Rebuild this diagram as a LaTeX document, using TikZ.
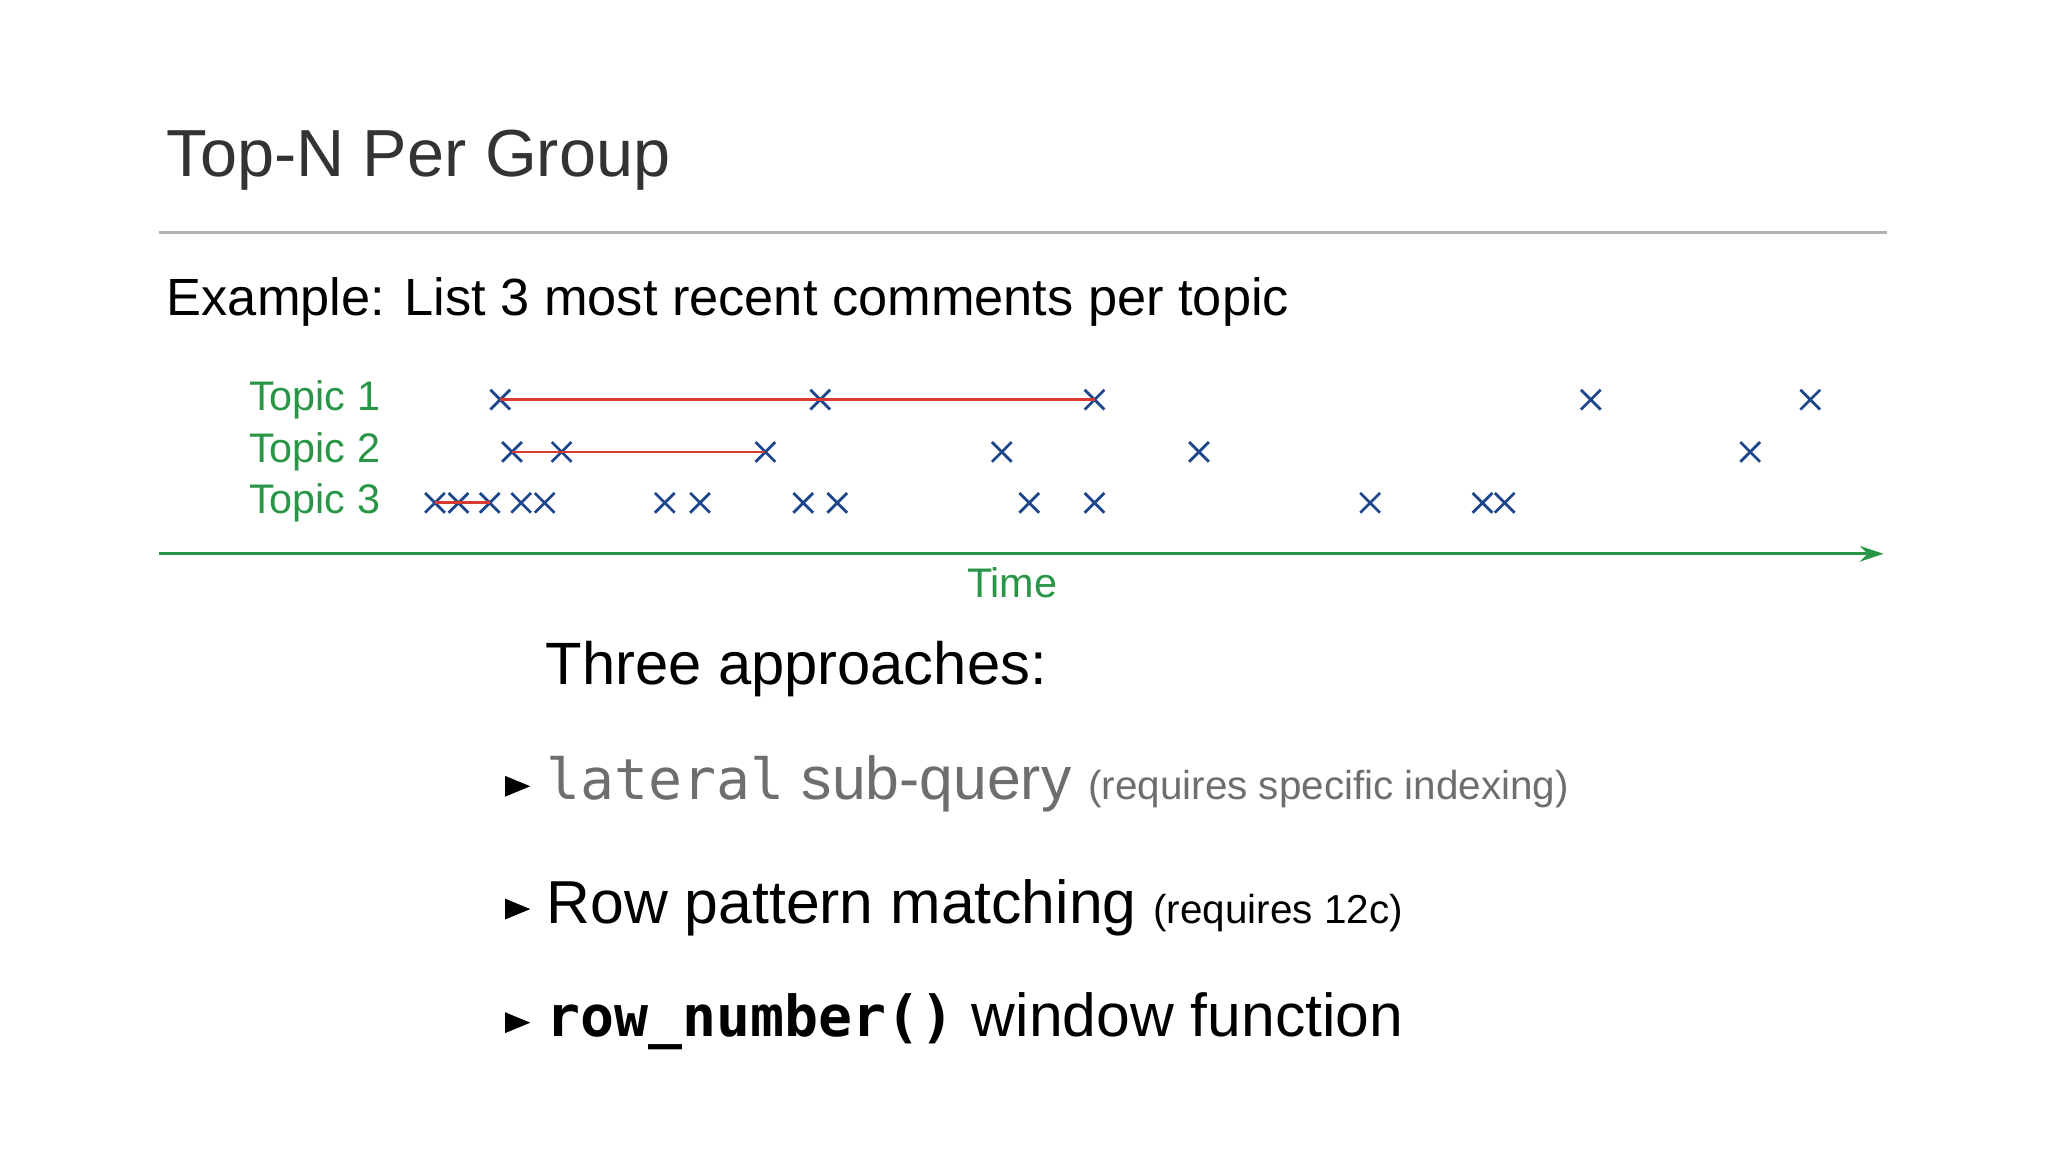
\documentclass[tikz,border=0pt]{standalone}
\usepackage{fontspec}
\setmainfont{Liberation Sans}
\setmonofont{DejaVu Sans Mono}
\usetikzlibrary{shapes.misc,shapes.geometric,arrows.meta}
\definecolor{topicgreen}{RGB}{40,150,70}
\definecolor{crossblue}{RGB}{30,70,140}
\definecolor{linered}{RGB}{215,60,50}
\definecolor{latergray}{RGB}{110,110,110}
\tikzset{
  crossmark/.style={draw=crossblue,cross out,minimum size=0.13cm,inner sep=0pt,line width=0.6pt},
  topic/.style={anchor=west,inner sep=0pt,text=topicgreen,font=\fontsize{9}{11}\selectfont},
  item/.style={anchor=west,inner sep=0pt,font=\fontsize{13.2}{16}\selectfont},
  bullet/.style={fill=black,isosceles triangle,minimum width=0.16cm,minimum height=0.13cm,inner sep=0pt}
}
\begin{document}
\begin{tikzpicture}[x=0.01cm,y=-0.01cm]
  \useasboundingbox (0,0) rectangle (1568,882);
  % heading
  \node[anchor=west,inner sep=0pt,font=\fontsize{14.5}{17}\selectfont,text=black!80] (title) at (127,123) {Top-N Per Group};
  \draw[black!30,line width=0.6pt] (122,178) coordinate (r1) -- (1445,178) coordinate (r2);
  \node[anchor=west,inner sep=0pt,font=\fontsize{11.4}{14}\selectfont] (example) at (127,231) {Example: List 3 most recent comments per topic};
  % topics
  \node[topic] (t1) at (190,306) {Topic 1};
  \node[topic] (t2) at (190,346) {Topic 2};
  \node[topic] (t3) at (190,385) {Topic 3};
  \foreach \x [count=\i] in {383,628,838,1218,1386}
    \node[crossmark] (a\i) at (\x,306) {};
  \foreach \x [count=\i] in {392,430,586,767,918,1340}
    \node[crossmark] (b\i) at (\x,346) {};
  \foreach \x [count=\i] in {333,351,375,399,417,509,536,615,641,788,838,1049,1135,1152}
    \node[crossmark] (c\i) at (\x,385) {};
  \draw[linered,line width=0.6pt] (a1.center) -- (a3.center);
  \draw[linered,line width=0.6pt] (b1.center) -- (b3.center);
  \draw[linered,line width=0.6pt] (c1.center) -- (c3.center);
  % time axis
  \coordinate (ax0) at (122,424);
  \coordinate (ax1) at (1442,424);
  \draw[topicgreen,line width=0.7pt,-{Stealth[length=0.18cm,width=0.12cm]}] (ax0) -- (ax1);
  \node[text=topicgreen,font=\fontsize{9}{11}\selectfont] (time) at (775,446) {Time};
  % approaches
  \node[anchor=west,inner sep=0pt,font=\fontsize{13}{16}\selectfont] (three) at (417,512) {Three approaches:};
  \node[bullet] (p1) at (392,602) {};
  \node[bullet] (p2) at (392,696) {};
  \node[bullet] (p3) at (392,783) {};
  \node[item,text=latergray] (l1) at (418,600) {{\fontsize{12.3}{15}\ttfamily lateral} sub-query {\fontsize{8.8}{11}\selectfont(requires specific indexing)}};
  \node[item] (l2) at (418,695) {Row pattern matching {\fontsize{8.8}{11}\selectfont(requires 12c)}};
  \node[item] (l3) at (418,782) {{\fontsize{12.3}{15}\ttfamily\bfseries row\_number()} window function};
\end{tikzpicture}
\end{document}
